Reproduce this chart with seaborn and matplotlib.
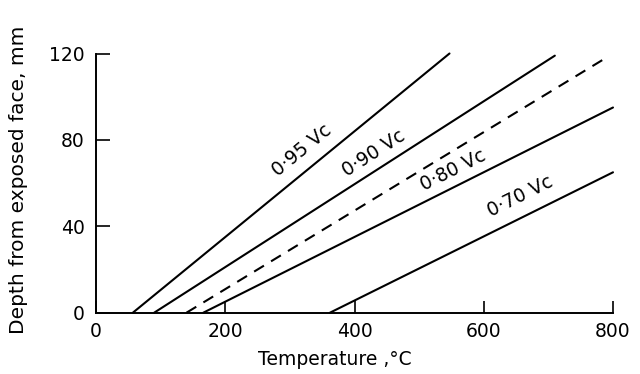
import numpy as np
import pandas as pd
import matplotlib
matplotlib.use("Agg")
import matplotlib.pyplot as plt
import seaborn as sns

# Data (temperature °C, depth mm)
series_names = ["0·95 Vc", "0·90 Vc", "dashed", "0·80 Vc", "0·70 Vc"]
temp_start = [57, 90, 140, 166, 362]
temp_end = [547, 710, 792, 800, 800]
depth_start = [0, 0, 0, 0, 0]
depth_end = [120, 119, 118.5, 95, 65]
label_x = [318, 430, 553, 656]
label_y = [75, 74, 66, 54]
x_ticks = [0, 200, 400, 600, 800]
y_ticks = [0, 40, 80, 120]

sns.set_theme(style="white")
plt.rcParams['font.family'] = ['DejaVu Sans']

fig = plt.figure(figsize=(6.4, 3.74), dpi=100)
ax = fig.add_axes([96/640, 1-312.7/374, (613-96)/640, (312.7-53.5)/374])

rows = []
for n, xs, xe, ys, ye in zip(series_names, temp_start, temp_end, depth_start, depth_end):
    rows.append(dict(series=n, T=xs, D=ys))
    rows.append(dict(series=n, T=xe, D=ye))
df = pd.DataFrame(rows)

for n in series_names:
    sub = df[df.series == n]
    if n == "dashed":
        sns.lineplot(data=sub, x="T", y="D", ax=ax, color="black", lw=1.5,
                     dashes=False, linestyle=(0, (5.5, 4)), clip_on=False)
    else:
        sns.lineplot(data=sub, x="T", y="D", ax=ax, color="black", lw=1.5, clip_on=False)

# labels rotated along lines
label_series = [n for n in series_names if n != "dashed"]
for i, n in enumerate(label_series):
    k = series_names.index(n)
    ang = np.degrees(np.arctan2(depth_end[k]-depth_start[k], temp_end[k]-temp_start[k]))
    ax.text(label_x[i], label_y[i], n, rotation=ang, transform_rotates_text=True,
            rotation_mode="anchor", ha="center", va="center", fontsize=13.5, color="black")

ax.set_xlim(0, 800)
ax.set_ylim(0, 120)
ax.set_xticks(x_ticks)
ax.set_yticks(y_ticks)
ax.set_xticklabels([str(t) for t in x_ticks])
ax.set_yticklabels([str(t) for t in y_ticks])
for s in ["top", "right"]:
    ax.spines[s].set_visible(False)
for s in ["left", "bottom"]:
    ax.spines[s].set_color("black")
    ax.spines[s].set_linewidth(1.4)
ax.tick_params(axis="y", direction="in", length=10, width=1.2, pad=8, labelsize=13.5, colors="black", left=True)
ax.tick_params(axis="x", direction="in", length=8.5, width=1.2, pad=7, labelsize=13.5, colors="black", bottom=True)
ax.grid(False)
ax.set_xlabel("Temperature ,°C", fontsize=13.5, color="black", va="center")
ax.xaxis.set_label_coords((335-96)/517, -(359-312.7)/259)
ax.set_ylabel("Depth from exposed face, mm", fontsize=14.5, color="black", va="center")
ax.yaxis.set_label_coords(-(96-19)/517, (312.7-180)/259)

fig.savefig("out.png", dpi=100)
